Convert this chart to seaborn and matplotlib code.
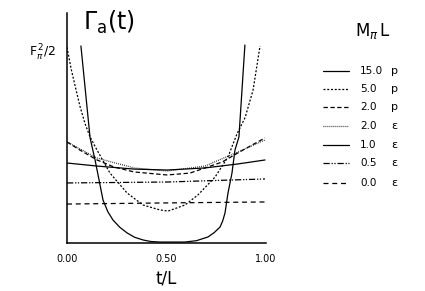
import pandas as pd
import seaborn as sns
import matplotlib
matplotlib.use("Agg")
import matplotlib.pyplot as plt
from matplotlib.lines import Line2D

# values (t/L, Gamma_a in units of F_pi^2/2)
x_15p = [0.070, 0.116, 0.141, 0.161, 0.181, 0.205, 0.231, 0.265, 0.302, 0.340,
         0.382, 0.420, 0.467, 0.593, 0.650, 0.709, 0.740, 0.769, 0.782, 0.794,
         0.809, 0.829, 0.844, 0.864, 0.894]
y_15p = [1.037, 0.553, 0.437, 0.332, 0.226, 0.165, 0.121, 0.083, 0.053, 0.030,
         0.016, 0.008, 0.005, 0.005, 0.012, 0.032, 0.055, 0.084, 0.115, 0.158,
         0.263, 0.368, 0.489, 0.558, 1.042]

x_5p = [0.0, 0.020, 0.040, 0.065, 0.090, 0.116, 0.151, 0.216, 0.302, 0.382,
        0.467, 0.508, 0.593, 0.658, 0.744, 0.809, 0.854, 0.895, 0.935, 0.970]
y_5p = [1.030, 0.920, 0.830, 0.720, 0.630, 0.558, 0.489, 0.368, 0.263, 0.200,
        0.174, 0.168, 0.200, 0.253, 0.347, 0.453, 0.574, 0.660, 0.805, 1.037]

x_2p = [0.0, 0.065, 0.151, 0.236, 0.337, 0.503, 0.618, 0.693, 0.779, 0.859, 0.930, 0.995]
y_2p = [0.532, 0.489, 0.437, 0.400, 0.374, 0.358, 0.368, 0.395, 0.426, 0.474, 0.516, 0.553]

x_2e = [0.0, 0.151, 0.337, 0.503, 0.693, 0.859, 0.995]
y_2e = [0.532, 0.447, 0.395, 0.379, 0.405, 0.479, 0.542]

x_1e = [0.0, 0.151, 0.337, 0.503, 0.693, 0.859, 0.995]
y_1e = [0.421, 0.405, 0.389, 0.384, 0.395, 0.416, 0.437]

x_05e = [0.0, 0.503, 0.995]
y_05e = [0.316, 0.321, 0.337]

x_0e = [0.0, 0.503, 0.995]
y_0e = [0.205, 0.211, 0.216]

series_names = ["15.0", "5.0", "2.0", "2.0", "1.0", "0.5", "0.0"]
series_kind = ["p", "p", "p", "ε", "ε", "ε", "ε"]
xs = [x_15p, x_5p, x_2p, x_2e, x_1e, x_05e, x_0e]
ys = [y_15p, y_5p, y_2p, y_2e, y_1e, y_05e, y_0e]

dash_styles = ["", (1.6, 1.4), (3.5, 2.0), (0.6, 1.0), "", (5, 1.5, 1, 1.2, 1, 1.5), (4, 3)]

frames = []
for name, kind, x, y in zip(series_names, series_kind, xs, ys):
    frames.append(pd.DataFrame({"t": x, "gamma": y, "series": f"{name} {kind}"}))
df = pd.concat(frames, ignore_index=True)
keys = [f"{n} {k}" for n, k in zip(series_names, series_kind)]
dashes = dict(zip(keys, dash_styles))

sns.set_style("white")
plt.rcParams["font.family"] = ["DejaVu Sans"]
plt.rcParams["mathtext.fontset"] = "dejavusans"
plt.rcParams["text.color"] = "black"
plt.rcParams["xtick.color"] = "black"
plt.rcParams["axes.labelcolor"] = "black"

W, H = 425, 291
fig = plt.figure(figsize=(W / 100, H / 100), dpi=100)
ax = fig.add_axes([67 / W, 1 - 243 / H, 199 / W, 230 / H])

sns.lineplot(data=df, x="t", y="gamma", style="series", dashes=dashes,
             style_order=keys, color="black", linewidth=0.9,
             estimator=None, sort=False, legend=False, ax=ax)

ax.set_xlim(0, 1.0)
ax.set_ylim(0, 230 / 190)
sns.despine(ax=ax)
for s in ["left", "bottom"]:
    ax.spines[s].set_color("black")
    ax.spines[s].set_linewidth(1.1)

ax.set_xticks([0, 0.5, 1.0])
ax.set_xticklabels(["0.00", "0.50", "1.00"], fontsize=7)
ax.tick_params(axis="x", length=0, pad=8)
ax.set_yticks([])
ax.set_ylabel("")
ax.set_xlabel("t/L", fontsize=12, labelpad=4)


def px(x, y):
    return x / W, 1 - y / H


fig.text(*px(83, 9), r"$\Gamma_\mathrm{a}(\mathrm{t})$", fontsize=17, ha="left", va="top")
fig.text(*px(56, 53), r"$\mathrm{F}_\pi^{\,2}/2$", fontsize=9, ha="right", va="center")
fig.text(*px(373, 31), r"$\mathrm{M}_\pi\,\mathrm{L}$", fontsize=12, ha="center", va="center")

row_y = [71, 89, 107, 126, 145, 163, 183]
for yy, name, kind, ds in zip(row_y, series_names, series_kind, dash_styles):
    (x0, yf), (x1, _) = px(323, yy), px(349, yy)
    ln = Line2D([x0, x1], [yf, yf], transform=fig.transFigure, color="black", linewidth=0.9)
    if ds:
        ln.set_dashes(ds)
    fig.add_artist(ln)
    fig.text(*px(360, yy), name, fontsize=7.5, ha="left", va="center")
    fig.text(*px(391, yy), kind, fontsize=8, ha="left", va="center")

fig.savefig("out.png", dpi=100, facecolor="white")
